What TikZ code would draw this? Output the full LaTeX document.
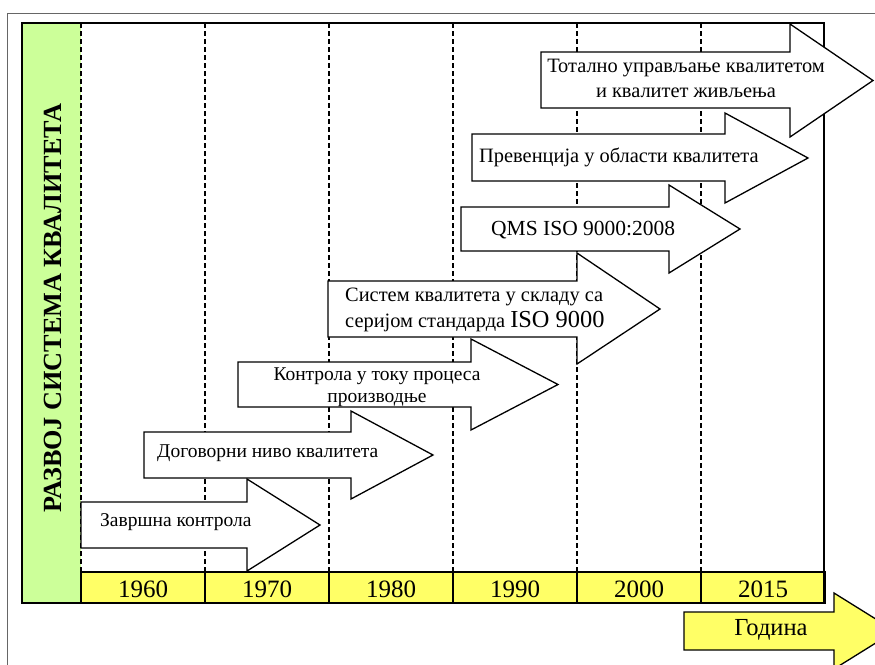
\documentclass[tikz,border=0pt]{standalone}
\usepackage{fontspec}
\setmainfont{Liberation Serif}
\usetikzlibrary{calc}
\definecolor{colgreen}{HTML}{CCFF99}
\definecolor{colyellow}{HTML}{FFFF66}
\begin{document}
\begin{tikzpicture}[x=1pt,y=-1pt,
  frameline/.style={draw=black,line width=2.4pt},
  gridline/.style={draw=black,line width=1.3pt,dash pattern=on 5pt off 3pt},
  yearcell/.style={draw=black,line width=1.8pt,fill=colyellow},
  barrow/.style={draw=black,fill=white,line width=1.3pt,line join=miter},
  yarrow/.style={draw=black,fill=colyellow,line width=1.3pt,line join=miter},
  lbl/.style={inner sep=0pt,font=\fontsize{19.5}{23}\selectfont},
  lblbig/.style={inner sep=0pt,font=\fontsize{20.4}{25}\selectfont},
  lbllatin/.style={inner sep=0pt,font=\fontsize{21.5}{26}\selectfont},
  yearlbl/.style={inner sep=0pt,font=\fontsize{25}{30}\selectfont},
  axislbl/.style={inner sep=0pt,font=\fontsize{24.5}{29}\selectfont},
  titlelbl/.style={inner sep=0pt,rotate=90,font=\fontsize{26.2}{30}\bfseries\selectfont}]
\useasboundingbox (0,0) rectangle (875,664);
\begin{scope}
\clip (0,0) rectangle (875,664);
% outer sheet border
\draw[gray!80!black,line width=1pt] (7,13) -- (890,13);
\draw[gray!80!black,line width=1pt] (7,13) -- (7,680);
% title column
\fill[colgreen] (22,23) rectangle (81,603);
% time grid
\foreach \gx in {81,205,329,453,577,701}
  \draw[gridline] (\gx,23) -- (\gx,572);
% year bar
\foreach \gx/\yr in {81/1960,205/1970,329/1980,453/1990,577/2000,701/2015}{
  \draw[yearcell] (\gx,572) rectangle ++(124,31);
  \node[yearlbl,anchor=base] (y\yr) at ($(\gx,597)+(62,0)$) {\yr};
}
% chart frame
\draw[frameline] (22,23) rectangle (824,603);
% development stages
\draw[barrow] (81,502) -- (247,502) -- (247,479) -- (320,525) -- (247,571) -- (247,548) -- (81,548) -- cycle;
\node[lbl,anchor=base west] (s1) at (100,526) {Завршна контрола};
\draw[barrow] (144,432) -- (351,432) -- (351,411) -- (433,455) -- (351,499) -- (351,478) -- (144,478) -- cycle;
\node[lbl,anchor=base west] (s2) at (157,457) {Договорни ниво квалитета};
\draw[barrow] (238,362) -- (471,362) -- (471,339) -- (558,384.5) -- (471,430) -- (471,407) -- (238,407) -- cycle;
\node[lbl,anchor=base] (s3a) at (377,380) {Контрола у току процеса};
\node[lbl,anchor=base] (s3b) at (377,402) {производње};
\draw[barrow] (328,281) -- (577,281) -- (577,253) -- (660,309) -- (577,364) -- (577,337) -- (328,337) -- cycle;
\node[lblbig,anchor=base west] (s4a) at (345,301) {Систем квалитета у складу са};
\node[lblbig,anchor=base west] (s4b) at (345,327) {серијом стандарда {\fontsize{24.4}{29}\selectfont ISO 9000}};
\draw[barrow] (461,207) -- (669,207) -- (669,185) -- (740,229) -- (669,273) -- (669,251) -- (461,251) -- cycle;
\node[lbllatin,anchor=base west] (s5) at (491,235) {QMS ISO 9000:2008};
\draw[barrow] (472,134) -- (725,134) -- (725,113) -- (808,158) -- (725,203) -- (725,181) -- (472,181) -- cycle;
\node[lblbig,anchor=base west] (s6) at (479,162) {Превенција у области квалитета};
\draw[barrow] (541,52) -- (790,52) -- (790,24) -- (873,80.5) -- (790,137) -- (790,108) -- (541,108) -- cycle;
\node[lblbig,anchor=base] (s7a) at (686,72) {Тотално управљање квалитетом};
\node[lblbig,anchor=base] (s7b) at (686,97) {и квалитет живљења};
% time axis arrow
\draw[yarrow] (684,612) -- (834,612) -- (834,593) -- (895,631) -- (834,669) -- (834,650) -- (684,650) -- cycle;
\node[axislbl,anchor=base] (axis) at (771,635) {Година};
% title
\node[titlelbl] (title) at (53,308) {РАЗВОЈ СИСТЕМА КВАЛИТЕТА};
\end{scope}
\end{tikzpicture}
\end{document}
